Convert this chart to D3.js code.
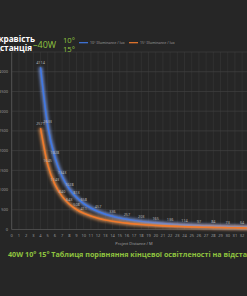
<!DOCTYPE html>
<html>
<head>
<meta charset="utf-8">
<script src="https://cdn.jsdelivr.net/npm/d3@7"></script>
<style>
  body { margin: 0; background: #262626; overflow: hidden; }
  svg { display: block; }
</style>
</head>
<body>
<svg id="chart" width="247" height="296"></svg>
<script>
// projection distance, metres
var distances = [4, 5, 6, 7, 8, 9, 10, 11, 12, 13, 14, 15, 16, 17, 18, 19, 20,
  21, 22, 23, 24, 25, 26, 27, 28, 29, 30, 31, 32, 33, 34];

// 10 degree beam, lux
var lux10 = [4114, 2633, 1828, 1343, 1028, 813, 658, 544, 457, 389, 336, 292,
  257, 228, 203, 182, 165, 149, 136, 125, 114, 105, 97, 90, 84, 78, 73, 68, 64, 60, 57];

// 15 degree beam, lux
var lux15 = [2571, 1645, 1143, 840, 643, 508, 411, 340, 286, 243, 210, 183,
  161, 142, 127, 114, 103, 93, 85, 78, 71, 66, 61, 57, 53, 49, 46, 43, 40, 38, 36];

// which distances get a value label
var labels10 = [4, 5, 6, 7, 8, 9, 10, 12, 14, 16, 18, 20, 22, 24, 26, 28, 30, 32];
var labels15 = [4, 5, 6, 7, 8, 9, 10];

var xTicks = d3.range(0, 33);
var yTicks = [0, 500, 1000, 1500, 2000, 2500, 3000, 3500, 4000, 4500];

var svg = d3.select("#chart");
var green = "#8fc43f";

var x = d3.scaleLinear().domain([0, 32]).range([11.7, 242.1]);
var y = d3.scaleLinear().domain([0, 4500]).range([229.5, 52]);

//glow filter for the lines
var defs = svg.append("defs");
defs.append("filter")
    .attr("id", "glow")
    .attr("x", "-20%").attr("y", "-20%")
    .attr("width", "140%").attr("height", "140%")
  .append("feGaussianBlur")
    .attr("stdDeviation", 1.8);

//grid
var grid = svg.append("g");
grid.selectAll("line.v")
  .data(xTicks)
  .enter()
  .append("line")
    .attr("x1", function(d) { return x(d); })
    .attr("x2", function(d) { return x(d); })
    .attr("y1", y(4500))
    .attr("y2", y(0))
    .attr("stroke", "#383838")
    .attr("stroke-width", 0.6);

grid.selectAll("line.h")
  .data(yTicks)
  .enter()
  .append("line")
    .attr("x1", x(0))
    .attr("x2", 247)
    .attr("y1", function(d) { return y(d); })
    .attr("y2", function(d) { return y(d); })
    .attr("stroke", function(d) { return d == 0 ? "#5a5a5a" : "#404040"; })
    .attr("stroke-width", 0.7);

svg.append("line")
  .attr("x1", x(0)).attr("x2", x(0))
  .attr("y1", y(4500)).attr("y2", y(0))
  .attr("stroke", "#5a5a5a")
  .attr("stroke-width", 0.8);

//axis tick labels (top one sits under the headline, left out)
svg.append("g")
  .selectAll("text")
  .data(xTicks)
  .enter()
  .append("text")
    .attr("x", function(d) { return x(d); })
    .attr("y", 237)
    .attr("text-anchor", "middle")
    .attr("font-family", "Noto Sans")
    .attr("font-size", 4)
    .attr("fill", "#9a9a9a")
    .text(function(d) { return d; });

svg.append("g")
  .selectAll("text")
  .data(yTicks.slice(0, -1))
  .enter()
  .append("text")
    .attr("x", 8)
    .attr("y", function(d) { return y(d) + 1.4; })
    .attr("text-anchor", "end")
    .attr("font-family", "Noto Sans")
    .attr("font-size", 4)
    .attr("fill", "#9a9a9a")
    .text(function(d) { return d; });

svg.append("text")
  .attr("x", 134)
  .attr("y", 245)
  .attr("text-anchor", "middle")
  .attr("font-family", "Noto Sans")
  .attr("font-size", 4)
  .attr("fill", "#a0a0a0")
  .text("Project Distance / M");

//series
var series = [
  {values: lux10, color: "#4078e4", glow: "#86aaff", labels: labels10},
  {values: lux15, color: "#f07a2c", glow: "#ffa45c", labels: labels15}
];

var line = d3.line()
  .x(function(d) { return x(d[0]); })
  .y(function(d) { return y(d[1]); })
  .curve(d3.curveMonotoneX);

series.forEach(function(s) {
  var pts = distances.map(function(d, i) { return [d, s.values[i]]; });

  svg.append("path")
    .attr("d", line(pts))
    .attr("fill", "none")
    .attr("stroke", s.glow)
    .attr("stroke-width", 4)
    .attr("opacity", 0.7)
    .attr("filter", "url(#glow)");

  svg.append("path")
    .attr("d", line(pts))
    .attr("fill", "none")
    .attr("stroke", s.color)
    .attr("stroke-width", 1.6);

  svg.append("g")
    .selectAll("text")
    .data(pts.filter(function(p) { return s.labels.indexOf(p[0]) >= 0; }))
    .enter()
    .append("text")
      .attr("x", function(d) { return x(d[0]); })
      .attr("y", function(d) { return y(d[1]) - 3; })
      .attr("text-anchor", "middle")
      .attr("font-family", "Noto Sans")
      .attr("font-size", 3.8)
      .attr("fill", "#b5b5b5")
      .text(function(d) { return d[1]; });
});

//legend
var legend = [
  {name: "10° Illuminance / lux", color: "#4078e4", x: 79},
  {name: "15° Illuminance / lux", color: "#f07a2c", x: 129}
];
legend.forEach(function(l) {
  svg.append("line")
    .attr("x1", l.x).attr("x2", l.x + 9)
    .attr("y1", 42.7).attr("y2", 42.7)
    .attr("stroke", l.color)
    .attr("stroke-width", 1.2);
  svg.append("text")
    .attr("x", l.x + 11)
    .attr("y", 44)
    .attr("font-family", "Noto Sans")
    .attr("font-size", 3.6)
    .attr("fill", "#9a9a9a")
    .text(l.name);
});

//headline, top left (cut off by the page edge)
svg.append("text")
  .attr("x", 35).attr("y", 41.5)
  .attr("text-anchor", "end")
  .attr("font-family", "Open Sans")
  .attr("font-weight", "bold")
  .attr("font-size", 8.2)
  .attr("fill", "#ffffff")
  .text("Яскравість");

svg.append("text")
  .attr("x", 32).attr("y", 51)
  .attr("text-anchor", "end")
  .attr("font-family", "Open Sans")
  .attr("font-weight", "bold")
  .attr("font-size", 8.2)
  .attr("fill", "#ffffff")
  .text("відстанція");

svg.append("text")
  .attr("x", 33).attr("y", 47.5)
  .attr("font-family", "Open Sans")
  .attr("font-size", 9)
  .attr("fill", green)
  .text("–40W");

svg.append("text")
  .attr("x", 63).attr("y", 42.5)
  .attr("font-family", "Open Sans")
  .attr("font-size", 7.6)
  .attr("fill", green)
  .text("10°");

svg.append("text")
  .attr("x", 63).attr("y", 51.5)
  .attr("font-family", "Open Sans")
  .attr("font-size", 7.6)
  .attr("fill", green)
  .text("15°");

//caption below
svg.append("text")
  .attr("x", 8).attr("y", 257)
  .attr("font-family", "Open Sans")
  .attr("font-weight", "bold")
  .attr("font-size", 7.2)
  .attr("fill", green)
  .text("40W 10° 15° Таблиця порівняння кінцевої освітленості на відстані");
</script>
</body>
</html>
